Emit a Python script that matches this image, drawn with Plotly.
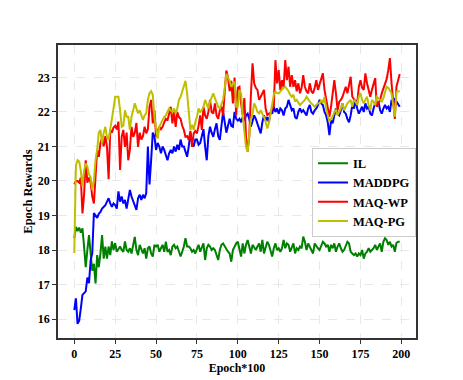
import plotly.graph_objects as go

epochs = list(range(200))

il = [
    18.34, 18.67, 18.55, 18.65, 18.5, 18.63, 18.1, 17.5, 18.0, 18.43,
    17.9, 17.4, 17.6, 17.03, 17.85, 17.5, 17.9, 18.43, 17.75, 18.1,
    17.75, 18.1, 17.85, 18.25, 18.0, 18.2, 17.95, 18.05, 18.1, 18.0,
    17.95, 18.25, 18.0, 17.95, 18.05, 17.9, 18.1, 18.38, 18.0, 17.85,
    18.15, 18.0, 17.9, 18.05, 17.75, 18.05, 18.1, 17.9, 17.81, 18.15,
    18.1, 18.15, 17.95, 18.05, 18.15, 17.95, 18.24, 17.95, 18.0, 17.85,
    18.1, 18.15, 18.05, 18.1, 17.95, 17.81, 17.95, 18.1, 18.34, 18.1,
    18.1, 18.05, 17.95, 18.0, 17.9, 18.05, 18.15, 17.95, 18.1, 18.19,
    17.71, 18.05, 18.15, 18.1, 18.0, 18.05, 18.0, 17.85, 17.71, 18.0,
    18.15, 18.19, 18.1, 18.0, 17.95, 17.9, 17.66, 18.0, 18.1, 18.19,
    18.24, 18.05, 17.81, 18.19, 17.9, 18.15, 18.29, 18.1, 17.9, 18.15,
    18.05, 18.0, 18.1, 18.19, 17.95, 18.29, 17.9, 18.1, 18.24, 18.15,
    17.95, 17.81, 18.05, 18.19, 18.0, 18.05, 17.95, 18.05, 18.29, 18.05,
    18.19, 18.15, 17.95, 18.1, 18.19, 17.9, 18.05, 18.0, 18.1, 18.05,
    18.39, 18.24, 18.0, 18.19, 18.1, 18.0, 17.9, 18.19, 18.1, 18.05,
    18.0, 18.15, 18.24, 18.19, 18.1, 18.15, 17.95, 18.15, 18.05, 18.19,
    17.95, 18.1, 18.19, 18.05, 17.95, 18.0, 18.15, 18.24, 18.19, 17.95,
    17.9, 17.85, 17.9, 17.81, 17.9, 17.85, 18.0, 17.75, 17.9, 17.95,
    18.05, 17.95, 18.0, 18.05, 18.15, 18.0, 18.1, 18.19, 17.95, 18.24,
    18.34, 18.29, 18.15, 18.24, 18.1, 18.15, 17.95, 18.2, 18.24, 18.24,
]

maddpg = [
    16.26, 16.6, 15.86, 15.95, 16.3, 16.7, 16.75, 16.8, 17.2, 17.04,
    17.7, 17.9, 19.07, 19.0, 18.93, 19.05, 19.1, 19.2, 19.25, 19.3,
    19.4, 19.5, 19.35, 19.25, 19.35, 19.3, 19.2, 19.7, 19.4, 19.55,
    19.35, 19.45, 19.2, 19.5, 19.74, 19.55, 19.4, 19.3, 19.16, 19.5,
    19.6, 19.45, 19.6, 19.5, 19.65, 21.0, 19.9, 20.6, 21.4, 21.3,
    20.9, 21.1, 21.0, 20.8, 21.0, 20.9, 20.75, 20.6, 20.8, 20.9,
    20.8, 21.0, 20.85, 21.05, 20.9, 21.2, 21.0, 21.0, 20.85, 20.7,
    21.0, 21.4, 21.1, 21.0, 21.2, 21.2, 21.05, 21.1, 21.3, 21.5,
    21.0, 20.6, 21.3, 21.57, 21.4, 21.28, 21.5, 21.67, 21.3, 21.19,
    21.6, 22.0, 21.7, 21.4, 21.6, 21.8, 21.6, 21.57, 22.0, 21.8,
    21.75, 21.8, 21.7, 21.85, 21.75, 21.9, 21.95, 21.8, 21.57, 21.75,
    21.9, 21.8, 21.67, 21.5, 21.38, 21.7, 21.9, 21.75, 21.85, 21.7,
    22.0, 21.95, 22.15, 22.0, 22.1, 21.95, 22.1, 22.05, 21.9, 22.1,
    22.15, 22.35, 22.2, 22.05, 22.1, 21.85, 21.8, 22.0, 22.1, 22.0,
    22.05, 21.95, 21.9, 22.1, 22.2, 22.0, 21.95, 22.05, 22.1, 22.2,
    22.35, 22.25, 22.2, 22.0, 21.9, 21.7, 21.33, 21.75, 21.67, 21.9,
    22.1, 21.95, 21.9, 22.05, 22.25, 22.0, 21.95, 21.8, 21.7, 21.9,
    22.2, 22.1, 22.35, 22.1, 21.95, 22.05, 22.15, 22.0, 22.25, 22.1,
    22.15, 21.95, 21.9, 22.1, 22.25, 22.2, 22.3, 22.05, 21.95, 22.1,
    22.2, 22.1, 22.15, 22.0, 22.35, 22.2, 22.4, 22.3, 22.2, 22.15,
]

maq_wp = [
    19.9, 20.0, 20.0, 19.95, 20.1, 19.06, 19.6, 20.6, 19.95, 20.1,
    19.95, 19.55, 19.35, 20.3, 20.9, 20.7, 21.1, 21.25, 21.0, 21.3,
    20.99, 20.05, 21.48, 21.4, 21.55, 21.6, 21.5, 21.72, 20.32, 21.28,
    21.48, 20.99, 21.4, 20.6, 20.9, 21.57, 21.28, 21.4, 21.68, 20.99,
    21.4, 21.2, 21.3, 21.57, 21.38, 21.5, 22.15, 22.35, 21.67, 22.05,
    21.28, 21.45, 21.57, 21.5, 21.57, 21.7, 21.8, 21.75, 22.0, 22.15,
    21.67, 22.0, 21.57, 22.0, 21.85, 21.8, 21.6, 21.48, 21.28, 21.3,
    21.19, 21.45, 20.99, 21.38, 21.45, 21.38, 21.6, 21.9, 21.48, 22.15,
    21.9, 21.8, 22.0, 22.35, 22.0, 21.95, 22.25, 21.9, 21.8, 22.05,
    22.15, 21.9, 22.6, 23.2, 23.0, 22.6, 22.9, 22.25, 23.0, 21.9,
    22.7, 22.73, 22.25, 21.91, 22.4, 21.3, 20.85, 21.3, 22.5, 23.41,
    22.83, 22.7, 22.64, 22.35, 22.44, 22.55, 22.64, 22.1, 21.91, 21.95,
    21.96, 22.1, 22.15, 23.5, 22.83, 23.21, 22.64, 22.92, 22.7, 23.5,
    22.92, 23.31, 22.73, 23.07, 22.73, 22.92, 22.6, 22.83, 22.54, 22.7,
    23.07, 22.73, 22.6, 22.54, 22.83, 22.6, 22.54, 22.7, 22.92, 22.64,
    22.8, 22.9, 23.12, 22.64, 22.35, 22.1, 21.86, 22.15, 22.6, 22.92,
    22.54, 22.05, 22.3, 22.35, 22.44, 22.6, 22.73, 22.54, 22.8, 23.02,
    22.44, 22.35, 22.3, 22.25, 22.73, 22.92, 22.7, 22.64, 23.12, 22.83,
    22.6, 22.44, 22.64, 22.8, 22.98, 22.15, 22.25, 22.35, 22.54, 22.7,
    22.83, 22.95, 23.21, 23.56, 22.83, 22.3, 21.8, 22.73, 22.9, 23.1,
]

maq_pg = [
    17.91, 20.45, 20.6, 20.56, 20.3, 19.84, 20.3, 20.51, 20.41, 20.2,
    20.1, 19.74, 20.02, 20.6, 20.9, 21.4, 21.48, 21.09, 21.4, 21.57,
    21.28, 21.19, 21.5, 21.77, 22.1, 22.44, 22.44, 22.44, 22.05, 21.57,
    21.6, 22.05, 21.86, 21.86, 21.48, 21.86, 22.05, 22.25, 22.1, 21.96,
    22.05, 21.9, 21.77, 21.9, 21.96, 22.35, 22.54, 22.6, 22.5, 21.86,
    21.6, 21.23, 21.57, 21.7, 21.77, 21.86, 21.9, 22.0, 22.1, 22.05,
    22.0, 22.1, 21.96, 22.1, 22.35, 22.44, 22.6, 22.7, 22.9, 22.54,
    22.05, 21.48, 21.63, 21.48, 21.7, 21.86, 22.1, 22.0, 22.05, 22.15,
    22.35, 22.2, 22.1, 22.3, 22.44, 22.54, 22.4, 22.25, 22.15, 22.1,
    22.25, 22.35, 22.7, 23.1, 23.0, 22.9, 22.73, 22.8, 22.88, 22.15,
    22.15, 22.64, 22.54, 21.9, 21.4, 20.99, 20.85, 21.38, 21.8, 21.95,
    22.25, 22.15, 22.0, 21.96, 22.05, 21.95, 21.86, 21.72, 21.52, 21.67,
    21.96, 22.3, 22.5, 22.59, 22.55, 22.54, 22.6, 22.64, 22.7, 22.73,
    22.68, 22.6, 22.5, 22.44, 22.5, 22.3, 22.35, 22.25, 22.2, 22.25,
    22.3, 22.35, 22.44, 22.35, 22.3, 22.25, 22.2, 22.15, 22.2, 22.25,
    22.25, 22.35, 22.25, 22.44, 22.1, 21.86, 21.72, 21.8, 21.86, 22.0,
    22.05, 21.91, 22.0, 22.1, 22.25, 22.05, 22.15, 22.25, 22.3, 22.35,
    22.15, 22.35, 22.3, 22.2, 22.45, 22.54, 22.35, 22.25, 22.35, 22.44,
    22.2, 22.05, 22.35, 22.3, 22.2, 22.44, 22.4, 22.35, 22.3, 22.4,
    22.54, 22.73, 22.7, 22.6, 22.54, 22.2, 21.86, 22.59, 22.6, 22.6,
]

x_ticks = [0, 25, 50, 75, 100, 125, 150, 175, 200]
y_ticks = [16, 17, 18, 19, 20, 21, 22, 23]

series = [
    ("IL", il, "#008000"),
    ("MADDPG", maddpg, "#0000ff"),
    ("MAQ-WP", maq_wp, "#ff0000"),
    ("MAQ-PG", maq_pg, "#bfbf00"),
]

FONT = "Liberation Serif"

fig = go.Figure()
for name, vals, color in series:
    fig.add_trace(go.Scatter(
        x=epochs, y=vals, mode="lines", name=name,
        line=dict(color=color, width=2),
    ))

axis_common = dict(
    showline=True, linecolor="#333333", linewidth=1.5, mirror=True,
    ticks="outside", ticklen=4, tickwidth=1.2, tickcolor="#333333",
    showgrid=True, gridcolor="#e8e8e8", griddash="dash", gridwidth=1,
    zeroline=False, automargin=False,
    tickfont=dict(family=FONT, size=12, color="black", weight="bold"),
)

fig.update_xaxes(
    range=[-9.95, 208.95], tickvals=x_ticks,
    title=dict(text="Epoch*100", font=dict(family=FONT, size=12, color="black", weight="bold"), standoff=3),
    **axis_common,
)
fig.update_yaxes(
    range=[15.45, 23.94], tickvals=y_ticks,
    title=dict(text="Epoch Rewards", font=dict(family=FONT, size=12.5, color="black", weight="bold"), standoff=2),
    **axis_common,
)

fig.update_layout(
    width=463, height=380,
    margin=dict(l=58, r=47, t=45, b=42),
    plot_bgcolor="white", paper_bgcolor="white",
    font=dict(family=FONT, color="black"),
    legend=dict(
        x=1.0, y=0.65, xanchor="right", yanchor="top",
        bgcolor="rgba(255,255,255,0.9)", bordercolor="#cccccc", borderwidth=1,
        font=dict(family=FONT, size=12.5, color="black", weight="bold"),
        tracegroupgap=0, itemwidth=30,
    ),
    showlegend=True,
)

# drop the browser's default page margin so the figure sits at (0, 0)
fig.write_html(
    "out.html",
    config={"displayModeBar": False},
    post_script="document.body.style.margin='0';",
)
